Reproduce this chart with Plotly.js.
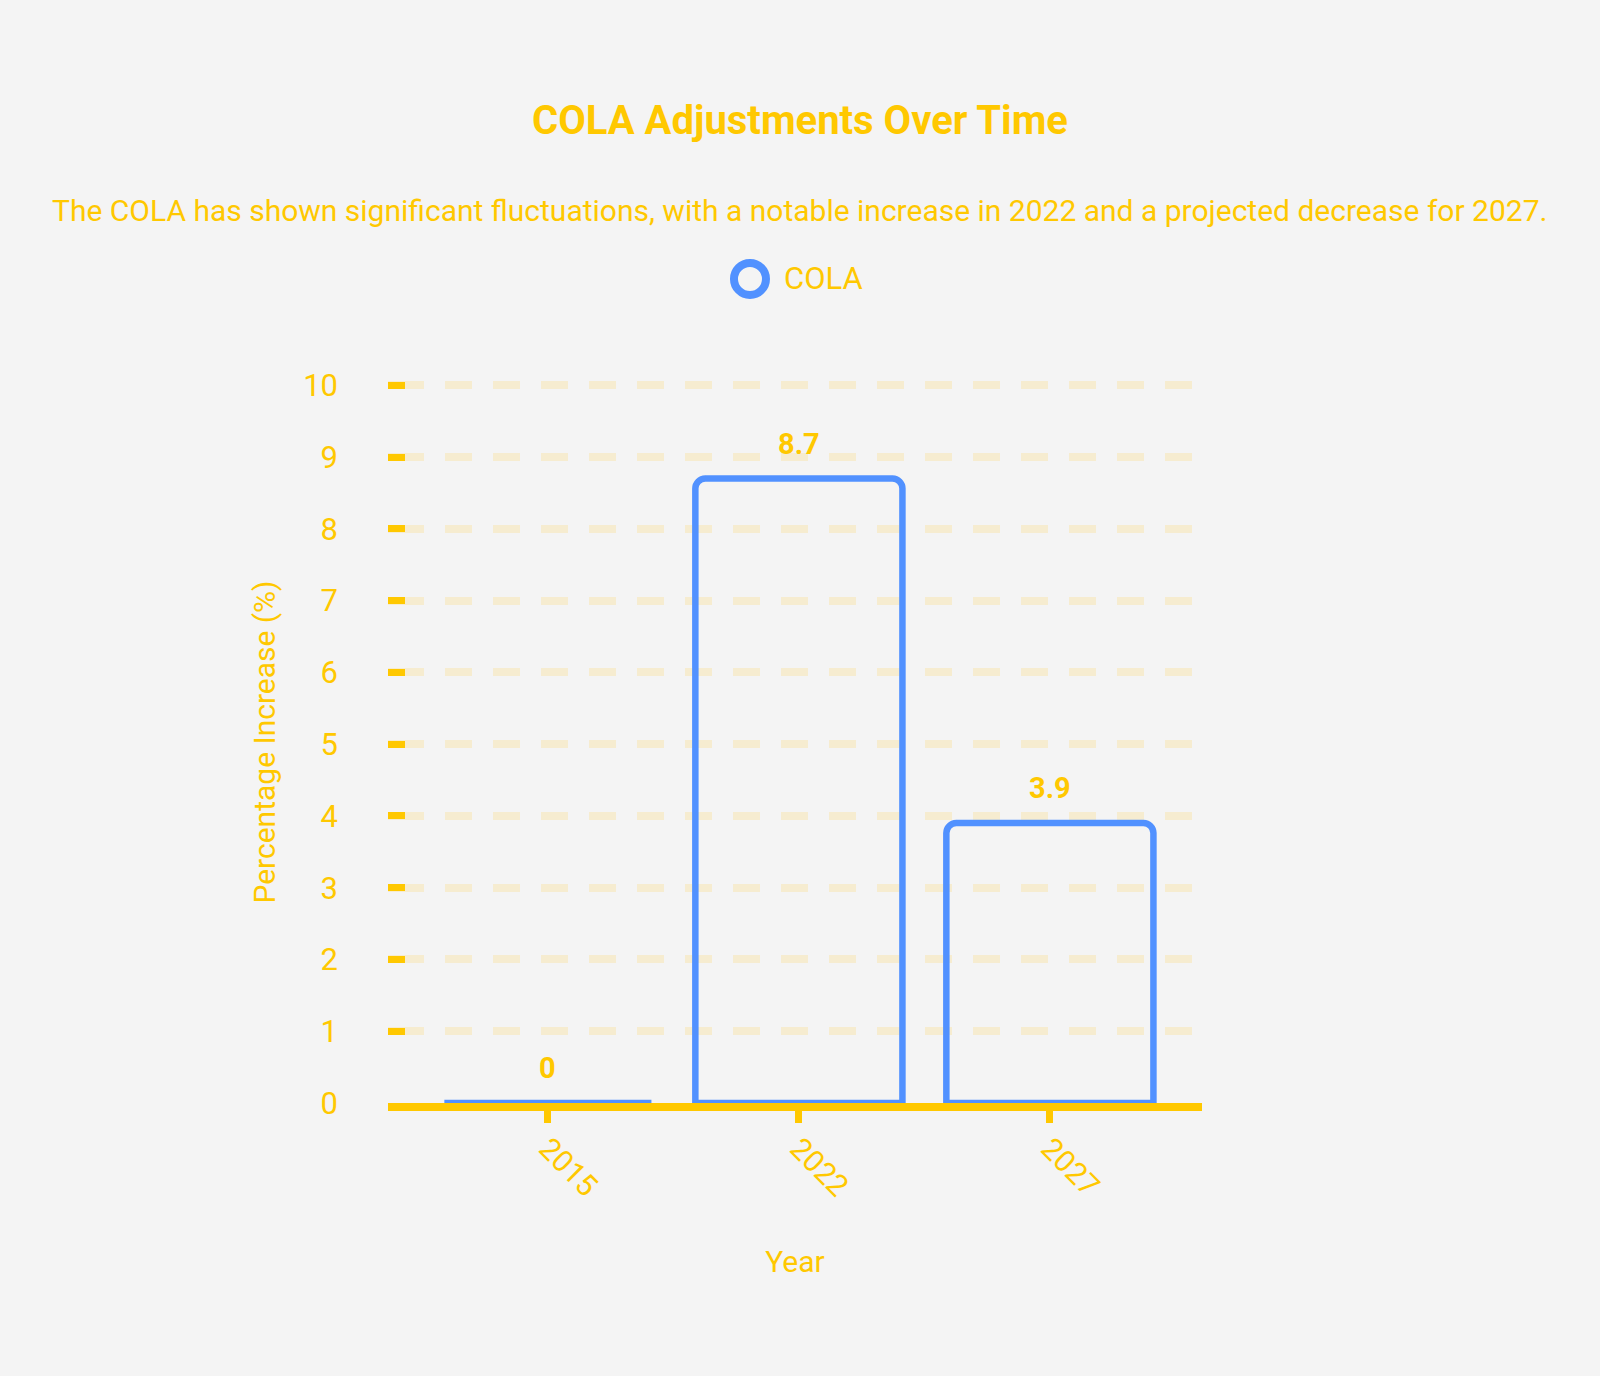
<!DOCTYPE html>
<html>
<head>
<meta charset="utf-8">
<script src="https://cdn.plot.ly/plotly-3.0.1.min.js"></script>
<style>
html,body{margin:0;padding:0;background:#f4f4f4;}
#chart{width:1600px;height:1376px;}
</style>
</head>
<body>
<div id="chart"></div>
<script>
const years = ["2015", "2022", "2027"];
const cola = [0, 8.7, 3.9];
const labels = ["0", "8.7", "3.9"];
const yTicks = [0,1,2,3,4,5,6,7,8,9,10];
const seriesName = "COLA";

const YELLOW = "#ffc800";
const BLUE = "#5191ff";
const FONT = "Roboto, sans-serif";

// dash pattern for the hand-drawn looking gridlines
let dash = ["36px", "21px"];
for (let i = 0; i < 16; i++) dash.push("27px", "21px");

const barTrace = {
  type: "bar",
  x: years,
  y: cola,
  width: 0.825,
  name: seriesName,
  showlegend: false,
  marker: {color: "rgba(0,0,0,0)", line: {color: BLUE, width: 6.5}, cornerradius: 10},
  hoverinfo: "x+y"
};

const annotations = years.map((yr, i) => ({
  x: i, y: cola[i], xref: "x", yref: "y",
  text: "<b>" + labels[i] + "</b>",
  showarrow: false, yanchor: "middle", yshift: 35,
  font: {family: FONT, size: 29, color: YELLOW}
}));
annotations.push({
  xref: "paper", yref: "paper", x: 0.506, y: 1.2368,
  xanchor: "center", yanchor: "middle", showarrow: false,
  text: "The COLA has shown significant fluctuations, with a notable increase in 2022 and a projected decrease for 2027.",
  font: {family: FONT, size: 30, color: YELLOW}
});
annotations.push({
  xref: "paper", yref: "paper", x: 0.484, y: 1.1413,
  xanchor: "left", yanchor: "middle", showarrow: false,
  text: seriesName,
  font: {family: FONT, size: 31, color: YELLOW}
});

const shapes = [{
  type: "circle", xref: "paper", yref: "paper",
  xsizemode: "pixel", ysizemode: "pixel",
  xanchor: 0.4447, yanchor: 1.1413,
  x0: -16, x1: 16, y0: -16, y1: 16,
  line: {color: BLUE, width: 8}, fillcolor: "rgba(0,0,0,0)"
}];

const layout = {
  width: 1600, height: 1376,
  paper_bgcolor: "#f4f4f4", plot_bgcolor: "#f4f4f4",
  margin: {l: 388, r: 398, t: 381, b: 273},
  font: {family: FONT, color: YELLOW, size: 30},
  title: {text: "<b>COLA Adjustments Over Time</b>", x: 0.5, xanchor: "center", xref: "container",
          y: 0.913, yanchor: "middle", yref: "container",
          font: {family: FONT, size: 40, color: YELLOW}},
  showlegend: false,
  xaxis: {
    type: "category", range: [-0.637, 2.606],
    showgrid: false, zeroline: false,
    showline: true, linecolor: YELLOW, linewidth: 8,
    ticks: "outside", ticklen: 12, tickwidth: 7, tickcolor: YELLOW,
    tickangle: 45, tickfont: {family: FONT, size: 30, color: YELLOW},
    ticklabelstandoff: -4,
    layer: "above traces",
    title: {text: "Year", font: {family: FONT, size: 30, color: YELLOW}, standoff: 52}
  },
  yaxis: {
    range: [0, 10.06], tickvals: yTicks, ticktext: yTicks.map(String),
    showgrid: true, gridcolor: "#f6ecd0", gridwidth: 8, griddash: dash.join(","),
    zeroline: false, showline: false,
    ticks: "inside", ticklen: 17, tickwidth: 7, tickcolor: YELLOW,
    ticklabelstandoff: 49,
    tickfont: {family: FONT, size: 31, color: YELLOW},
    title: {text: "Percentage Increase (%)", font: {family: FONT, size: 30, color: YELLOW}, standoff: 18}
  },
  annotations: annotations,
  shapes: shapes
};

Plotly.newPlot("chart", [barTrace], layout, {displayModeBar: false});
</script>
</body>
</html>
